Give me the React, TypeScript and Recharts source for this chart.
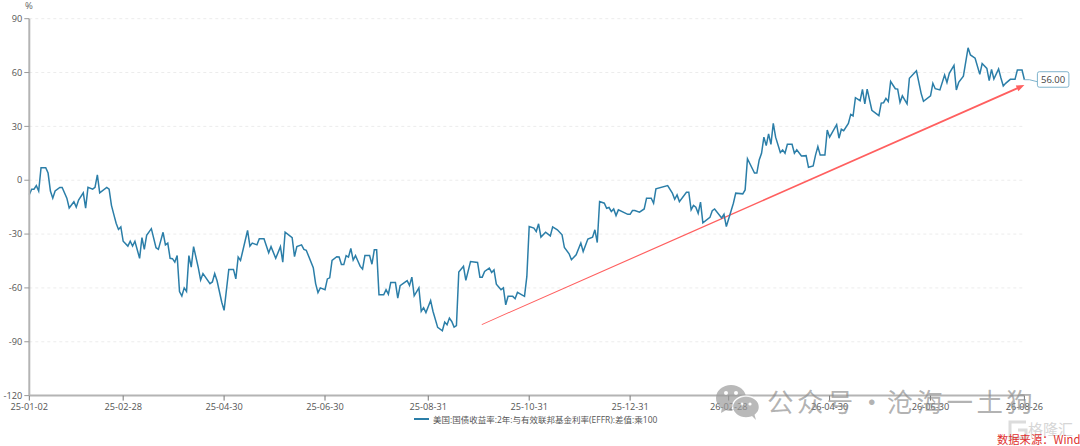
import React from "react";
import { LineChart, Line, XAxis, YAxis, CartesianGrid, Legend, ReferenceLine } from "recharts";

const seriesName = "美国:国债收益率:2年:与有效联邦基金利率(EFFR):差值:乘100";
const tickIndex = [0, 40, 83, 126, 170, 213, 256, 298, 341, 384, 424];
const tickLabels = ["25-01-02", "25-02-28", "25-04-30", "25-06-30", "25-08-31", "25-10-31", "25-12-31", "26-02-28", "26-04-30", "26-06-30", "26-08-26"];
const yTicks = [-120, -90, -60, -30, 0, 30, 60, 90];

const dayIndex = [
  0,1,2,3,4,5,7,8,9,10,11,13,14,16,17,19,20,21,23,24,25,27,28,29,30,33,34,35,36,37,38,39,40,42,43,44,45,47,48,49,50,52,54,55,57,58,59,60,
  61,62,63,64,65,66,67,68,69,70,72,73,74,77,78,79,80,82,83,85,87,88,89,90,93,94,95,97,98,100,102,103,105,107,108,109,112,113,114,116,117,118,
  121,122,123,124,126,127,128,129,131,132,133,134,135,136,137,138,139,140,141,142,143,145,146,147,148,149,151,152,153,154,156,157,158,161,162,163,164,166,
  167,168,169,171,172,174,176,177,178,179,180,181,182,183,185,186,188,191,192,193,194,196,197,198,199,201,202,203,204,206,207,208,211,212,213,215,216,217,218,220,
  222,223,225,227,228,230,231,233,235,236,238,240,241,242,243,245,246,247,248,249,250,251,255,256,257,258,260,262,263,265,266,267,272,274,275,276,277,280,281,282,
  283,284,285,286,287,290,291,292,295,296,297,300,301,304,305,306,309,310,311,312,313,314,315,316,317,318,320,321,322,323,325,326,327,329,331,332,334,335,336,337,
  339,340,341,344,345,346,347,349,350,351,352,354,355,356,357,359,362,363,364,365,366,367,369,370,371,372,374,375,378,380,381,384,385,386,388,390,391,392,394,395,
  396,398,400,401,403,405,406,408,409,410,411,413,414,415,416,418,420,421,423,424,
];

const spread = [
  -8,-5,-5,-3,-6,7,7,4,-6,-10,-6,-4,-4,-10,-15.5,-12,-15,-11,-7,-15.5,-4,-5,-4,3,-7,-4,-5,-14,-19,-24,-27.4,-26,-34,-36.7,-34,-36.7,-34,-43.5,-32,-38.5,-30.7,-27,-37.6,-38.5,-29,-36,-35,-43.5,
  -43.7,-45.6,-42,-62,-64.5,-60,-62,-42,-48.4,-37,-48.7,-55.6,-52,-57.6,-56.7,-52,-56,-68,-72.5,-49.7,-49.7,-55,-42.8,-44.7,-28,-36.7,-35,-36,-32.6,-32.6,-40.4,-37,-43.5,-37,-45.6,-29,-32,-42.6,-37,-36,-38.5,-39,
  -48.7,-57.6,-62.6,-60,-61,-55,-54.4,-44.7,-42.6,-42.8,-47,-47,-42,-42.8,-38,-44.5,-42,-45,-48,-49.5,-42,-42,-46.8,-38.8,-38.8,-63.8,-63.8,-61,-63.5,-57,-57,-65.7,-58.8,-56,-58.6,-54,-64.4,-60,
  -73,-71,-73.7,-67,-73,-82,-83.9,-79,-80.5,-76.8,-78.7,-81.8,-81,-51.2,-48,-55.8,-45.3,-45.8,-54,-54,-50.8,-49,-51.4,-50,-57.9,-61,-60,-69.4,-64.7,-64.7,-66,-62.5,-64.7,-53.6,-25.8,-26.7,-28.6,-24.3,-31.7,-29,
  -31,-26,-27.6,-30.4,-37.5,-41,-44.3,-41.6,-35,-39.7,-32.8,-31.7,-27.6,-34.7,-11.9,-12.8,-15.6,-15.2,-17.4,-16,-19.7,-16.5,-19,-19,-16.9,-16.9,-17.8,-16,-10,-10,-12.8,-4.8,-3,-7.2,-10.6,-8.2,-11.9,-6.7,-6.7,-16.5,
  -14,-15,-18.4,-12.2,-23.8,-20.7,-17,-16,-21,-19,-25.8,-12.8,-7.2,-7.6,-5.4,12,4,4,11.3,15,24,19.3,25.8,20,31.7,24,15.4,16.9,15,20,20,15,16.9,13.5,13.7,7.2,8,14,18.7,14,
  14,28,24,31,23.4,28.4,27.6,31.7,36.7,35.8,46,44.3,50.6,42.5,50.8,39,36,43,43.2,45.6,43.8,55,51,50.8,43.4,47,42.5,56.8,61,48.4,44,47,54,51,50.3,58.6,54.5,59.6,64,50.3,
  54.5,58,73.8,69.8,68,59,65,62.3,55.5,61.8,56.4,62,57,52.5,54,56.2,56.2,61.4,61.4,56,
];

const chartRows = dayIndex.map((day, i) => ({ day, spread: spread[i] }));
const lastDay = dayIndex[dayIndex.length - 1];
const font = "'Open Sans', 'Noto Sans CJK SC', sans-serif";
const cjk = "'Noto Sans CJK SC', sans-serif";
const lineColor = "#2b7ea8";

function TrendArrow(props: any) {
  const { x1, y1, x2, y2 } = props;
  const dx = x2 - x1, dy = y2 - y1;
  const len = Math.hypot(dx, dy);
  const ux = dx / len, uy = dy / len, nx = -uy, ny = ux;
  const bx = x2 - ux * 8, by = y2 - uy * 8;
  const pts = [
    [x1 + nx * 0.4, y1 + ny * 0.4], [bx + nx * 1, by + ny * 1], [bx + nx * 3.2, by + ny * 3.2],
    [x2, y2], [bx - nx * 3.2, by - ny * 3.2], [bx - nx * 1, by - ny * 1], [x1 - nx * 0.4, y1 - ny * 0.4],
  ].map((p) => p.join(",")).join(" ");
  return <polygon points={pts} fill="#ff5f5f" />;
}

function EndLabel(props: any) {
  const { x, y, index } = props;
  if (index !== dayIndex.length - 1) return null;
  return (
    <g>
      <polyline points={`${x},${y} ${x + 5},${y} ${x + 13},${y + 2}`} fill="none" stroke="#7fb3cc" strokeWidth={1} />
      <rect x={x + 13} y={y - 8} width={31.5} height={15.5} rx={2} fill="#fff" stroke="#7fb3cc" strokeWidth={1} />
      <text x={x + 28.7} y={y + 3.2} textAnchor="middle" fontSize={9.5} fontFamily={font} fill="#444">56.00</text>
    </g>
  );
}

function LegendRow() {
  return (
    <div style={{ display: "flex", alignItems: "center", fontFamily: font, fontSize: 8.5, color: "#555", whiteSpace: "nowrap" }}>
      <span style={{ display: "inline-block", width: 15, height: 1.6, background: lineColor, marginRight: 4 }} />
      {seriesName}
    </div>
  );
}

export default function App() {
  return (
    <div style={{ position: "fixed", left: 0, top: 0, width: 1080, height: 446, background: "#fff", overflow: "hidden" }}>
      <LineChart width={1080} height={446} data={chartRows} margin={{ top: 18.7, right: 55.6, bottom: 20.4, left: 0 }}>
        <CartesianGrid horizontal vertical={false} stroke="#ececec" strokeDasharray="3 3" />
        <XAxis
          dataKey="day" type="number" domain={[0, lastDay]} ticks={tickIndex} interval={0}
          tickFormatter={(v: number) => tickLabels[tickIndex.indexOf(v)]}
          height={30} tickSize={5} tickMargin={3} axisLine={{ stroke: "#b4b4b4", strokeWidth: 2 }} tickLine={{ stroke: "#777" }}
          tick={{ fontSize: 9.2, fontFamily: font, fill: "#555" }}
        />
        <YAxis
          type="number" domain={[-120, 90]} ticks={yTicks} interval={0} width={29.3} tickSize={5}
          axisLine={{ stroke: "#b4b4b4", strokeWidth: 2 }} tickLine={{ stroke: "#999" }}
          tick={{ fontSize: 9.2, fontFamily: font, fill: "#555" }}
        />
        <Legend verticalAlign="middle" wrapperStyle={{ top: 413, left: 414, width: 300 }} content={() => <LegendRow />} />
        <ReferenceLine segment={[{ x: 192.8, y: -80.4 }, { x: 424, y: 53 }]} shape={TrendArrow} ifOverflow="visible" />
        <Line
          name={seriesName} dataKey="spread" type="linear" stroke={lineColor} strokeWidth={1.5}
          dot={false} activeDot={false} isAnimationActive={false} label={EndLabel}
        />
      </LineChart>
      <div style={{ position: "absolute", left: 25, top: 0, fontFamily: font, fontSize: 9.5, lineHeight: "11px", color: "#666" }}>%</div>

      <svg style={{ position: "absolute", left: 712, top: 380 }} width={50} height={42} opacity={0.7}>
        <ellipse cx={19} cy={18} rx={15} ry={13} fill="#9c9c9c" />
        <polygon points="10,27 9,33 16,29" fill="#9c9c9c" />
        <circle cx={14} cy={13} r={2} fill="#fff" />
        <circle cx={24} cy={13} r={2} fill="#fff" />
        <ellipse cx={34} cy={27} rx={13.5} ry={11} fill="#9c9c9c" stroke="#fff" strokeWidth={1.5} />
        <polygon points="39,35 44,40 42,33" fill="#9c9c9c" />
        <circle cx={30} cy={24} r={1.6} fill="#fff" />
        <circle cx={38} cy={24} r={1.6} fill="#fff" />
      </svg>
      <div style={{ position: "absolute", left: 767, top: 384, fontFamily: cjk, fontSize: 26.5, lineHeight: "34px", letterSpacing: 3.4, color: "rgba(140,140,140,0.66)", whiteSpace: "nowrap" }}>
        公众号<span style={{ display: "inline-block", width: 30, textAlign: "center", letterSpacing: 0 }}>·</span>沧海一土狗
      </div>
      <svg style={{ position: "absolute", left: 1006, top: 419 }} width={24} height={22}>
        <path d="M20 3 H4 V19 H20 V11 H12" fill="none" stroke="#dcdcdc" strokeWidth={3} />
      </svg>
      <div style={{ position: "absolute", left: 1028, top: 419, fontFamily: cjk, fontSize: 15, lineHeight: "20px", color: "#d6d6d6", whiteSpace: "nowrap" }}>格隆汇</div>
      <div style={{ position: "absolute", left: 997, top: 431, fontFamily: cjk, fontSize: 11.3, lineHeight: "16px", color: "#e0302e", whiteSpace: "nowrap" }}>数据来源：Wind</div>
    </div>
  );
}
